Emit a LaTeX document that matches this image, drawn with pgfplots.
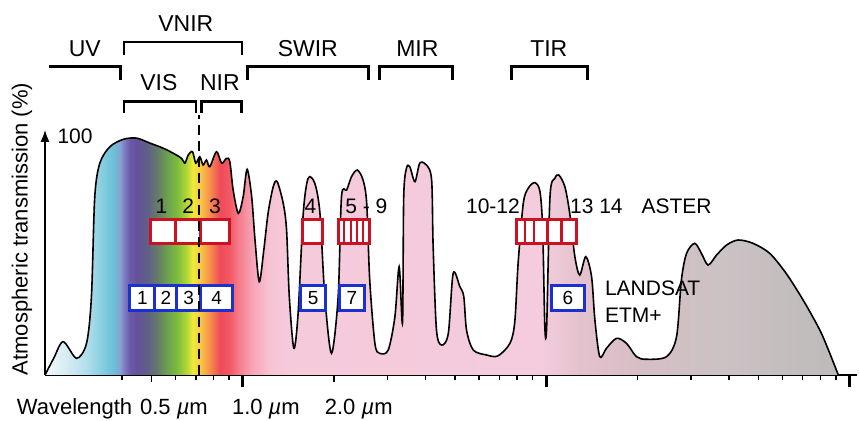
\documentclass[border=0pt]{standalone}
\usepackage{pgfplots}
\pgfplotsset{compat=1.18}
\usepackage{pgfplotstable}
\usepackage{fontspec}
\setmainfont{Liberation Sans}
\usetikzlibrary{arrows.meta}

\definecolor{asterred}{HTML}{CC1122}
\definecolor{landblue}{HTML}{1A30D0}

\definecolor{s00}{HTML}{F4FAFC}
\definecolor{s01}{HTML}{DFF0F5}
\definecolor{s02}{HTML}{C8E6EF}
\definecolor{s03}{HTML}{A8DCEA}
\definecolor{s04}{HTML}{78C8DC}
\definecolor{s05}{HTML}{6CBCD8}
\definecolor{s06}{HTML}{8AA0D0}
\definecolor{s07}{HTML}{7878C0}
\definecolor{s08}{HTML}{6A5AA8}
\definecolor{s09}{HTML}{66509A}
\definecolor{s10}{HTML}{5F5F88}
\definecolor{s11}{HTML}{667A6A}
\definecolor{s12}{HTML}{6AA050}
\definecolor{s13}{HTML}{7CBC3C}
\definecolor{s14}{HTML}{B8D838}
\definecolor{s15}{HTML}{F0EA38}
\definecolor{s16}{HTML}{F8C848}
\definecolor{s17}{HTML}{F8A048}
\definecolor{s18}{HTML}{F47850}
\definecolor{s19}{HTML}{F04A58}
\definecolor{s20}{HTML}{F25A66}
\definecolor{s21}{HTML}{F58090}
\definecolor{s22}{HTML}{F7A6B8}
\definecolor{s23}{HTML}{F6C4D4}
\definecolor{s24}{HTML}{F5CADB}
\definecolor{s25}{HTML}{F4CCDE}
\definecolor{s26}{HTML}{E4C2CD}
\definecolor{s27}{HTML}{D6BEC5}
\definecolor{s28}{HTML}{CBC2C4}
\definecolor{s29}{HTML}{BDBABA}

\pgfdeclarehorizontalshading{spectrum}{100bp}{color(0bp)=(s00); color(25bp)=(s00); color(25.95bp)=(s01); color(26.89bp)=(s02); color(27.84bp)=(s03); color(28.91bp)=(s04); color(29.41bp)=(s05); color(29.73bp)=(s06); color(30.04bp)=(s07); color(30.36bp)=(s08); color(30.80bp)=(s09); color(31.43bp)=(s10); color(32.06bp)=(s11); color(32.69bp)=(s12); color(33.32bp)=(s13); color(33.95bp)=(s14); color(34.33bp)=(s15); color(34.77bp)=(s16); color(35.21bp)=(s17); color(35.59bp)=(s18); color(36.03bp)=(s19); color(36.66bp)=(s20); color(37.29bp)=(s21); color(38.11bp)=(s22); color(39.18bp)=(s23); color(40.44bp)=(s24); color(56.20bp)=(s25); color(58.72bp)=(s26); color(62.50bp)=(s27); color(67.55bp)=(s28); color(75bp)=(s29); color(100bp)=(s29)}

% L = log10(wavelength / micrometre), Y = transmission in percent
\pgfplotstableread{
L Y
-0.652 0
-0.623 7.1
-0.592 14.0
-0.548 7.0
-0.515 13.4
-0.499 32.9
-0.488 74.9
-0.471 89.1
-0.438 95.9
-0.394 99.0
-0.350 99.5
-0.306 97.4
-0.263 95.3
-0.230 93.2
-0.202 91.0
-0.191 89.0
-0.180 92.4
-0.166 93.8
-0.155 89.0
-0.142 91.7
-0.131 88.2
-0.120 90.3
-0.109 87.5
-0.087 93.8
-0.070 89.0
-0.054 91.0
-0.043 89.6
-0.032 77.7
-0.015 67.9
0.001 74.9
0.014 86.4
0.029 74.9
0.040 56.7
0.054 39.2
0.069 52.5
0.083 67.9
0.100 79.1
0.113 81.2
0.133 72.1
0.144 60.9
0.153 32.9
0.168 11.2
0.182 25.9
0.199 67.9
0.215 82.6
0.237 80.5
0.254 67.9
0.270 32.9
0.292 9.1
0.314 32.9
0.325 74.9
0.342 77.7
0.358 83.3
0.377 86.1
0.396 81.9
0.408 72.1
0.418 39.9
0.435 13.3
0.451 9.1
0.479 10.5
0.501 24.5
0.515 45.5
0.526 22.0
0.530 74.9
0.539 86.8
0.550 87.5
0.567 81.2
0.583 89.0
0.605 88.2
0.622 81.9
0.627 53.9
0.638 18.9
0.655 12.6
0.677 17.5
0.693 42.7
0.715 37.1
0.728 32.9
0.737 18.9
0.759 10.5
0.803 8.4
0.840 8.0
0.880 13.3
0.896 22.4
0.907 46.9
0.924 72.1
0.940 78.4
0.962 80.8
0.979 77.0
0.988 60.9
0.995 20.3
1.001 20.3
1.012 74.9
1.028 82.6
1.041 84.0
1.061 79.1
1.077 67.9
1.094 49.7
1.110 42.0
1.130 49.7
1.149 41.3
1.160 23.1
1.176 7.7
1.198 11.2
1.231 15.4
1.264 13.3
1.297 7.7
1.330 6.6
1.396 7.7
1.429 16.1
1.445 39.9
1.462 51.1
1.489 55.3
1.511 51.1
1.533 46.2
1.561 50.4
1.594 54.6
1.632 56.7
1.681 55.3
1.736 51.1
1.790 42.7
1.846 31.5
1.901 18.9
1.934 9.1
1.962 0
}\atm

\begin{document}
\begin{tikzpicture}
\useasboundingbox (-22.5pt,-23pt) rectangle (407.5pt,187.5pt);
\begin{axis}[
  scale only axis, width=405.9pt, height=122.6pt,
  xmin=-0.652, xmax=2.023, ymin=0, ymax=103,
  axis x line=bottom, axis y line=left,
  x axis line style={-, line width=0.9pt},
  y axis line style={-{Latex[length=6pt,width=4.5pt]}, line width=0.9pt},
  xtick={0,1,2}, xticklabels={,,},
  minor xtick={-0.398,-0.222,-0.155,-0.097,-0.046,0.477,0.602,0.699,0.778,0.845,0.903,0.954,1.301,1.477,1.602,1.699,1.778,1.845,1.903,1.954},
  extra x ticks={-0.301,0.301}, extra x tick labels={,},
  extra x tick style={major tick length=3.5pt, major tick style={line width=0.8pt}},
  major tick length=6pt, minor tick length=2.5pt,
  tick align=outside,
  major tick style={black, line width=1.4pt},
  minor tick style={black, line width=0.7pt},
  ytick=\empty,
  clip=false,
  font=\fontsize{11}{13}\selectfont,
]
\addplot[draw=none, smooth, tension=0.5, shading=spectrum, shading angle=0] table[x=L,y=Y]{\atm} \closedcycle;
\addplot[black, line width=0.8pt, smooth, tension=0.5] table[x=L,y=Y]{\atm};

% ASTER bands
\draw[draw=asterred, fill=white, line width=1.5pt] (axis cs:-0.303,55.3) rectangle (axis cs:-0.043,65.4);
\draw[asterred, line width=1.5pt] (axis cs:-0.221,55.3) -- (axis cs:-0.221,65.4);
\draw[asterred, line width=1.5pt] (axis cs:-0.139,55.3) -- (axis cs:-0.139,65.4);
\draw[draw=asterred, fill=white, line width=1.5pt] (axis cs:0.197,55.3) rectangle (axis cs:0.263,65.4);
\draw[draw=asterred, fill=white, line width=1.5pt] (axis cs:0.314,55.3) rectangle (axis cs:0.416,65.4);
\draw[asterred, line width=1.1pt] (axis cs:0.334,55.3) -- (axis cs:0.334,65.4);
\draw[asterred, line width=1.1pt] (axis cs:0.355,55.3) -- (axis cs:0.355,65.4);
\draw[asterred, line width=1.1pt] (axis cs:0.376,55.3) -- (axis cs:0.376,65.4);
\draw[asterred, line width=1.1pt] (axis cs:0.395,55.3) -- (axis cs:0.395,65.4);
\draw[draw=asterred, fill=white, line width=1.5pt] (axis cs:0.900,55.3) rectangle (axis cs:1.100,65.4);
\draw[asterred, line width=1.1pt] (axis cs:0.929,55.3) -- (axis cs:0.929,65.4);
\draw[asterred, line width=1.1pt] (axis cs:0.959,55.3) -- (axis cs:0.959,65.4);
\draw[asterred, line width=1.1pt] (axis cs:1.050,55.3) -- (axis cs:1.050,65.4);
\draw[asterred, line width=1.8pt] (axis cs:1.004,55.3) -- (axis cs:1.004,65.4);

% LANDSAT bands
\draw[draw=landblue, fill=white, line width=1.5pt] (axis cs:-0.372,26.9) rectangle (axis cs:-0.034,37.8);
\draw[landblue, line width=1.5pt] (axis cs:-0.290,26.9) -- (axis cs:-0.290,37.8);
\draw[landblue, line width=1.5pt] (axis cs:-0.218,26.9) -- (axis cs:-0.218,37.8);
\draw[landblue, line width=1.5pt] (axis cs:-0.139,26.9) -- (axis cs:-0.139,37.8);
\draw[draw=landblue, fill=white, line width=1.5pt] (axis cs:0.191,26.9) rectangle (axis cs:0.273,37.8);
\draw[draw=landblue, fill=white, line width=1.5pt] (axis cs:0.317,26.9) rectangle (axis cs:0.402,37.8);
\draw[draw=landblue, fill=white, line width=1.5pt] (axis cs:1.017,26.9) rectangle (axis cs:1.125,37.8);

\node[font=\fontsize{9.5}{11}\selectfont] at (axis cs:-0.331,32.35) {1};
\node[font=\fontsize{9.5}{11}\selectfont] at (axis cs:-0.254,32.35) {2};
\node[font=\fontsize{9.5}{11}\selectfont] at (axis cs:-0.1785,32.35) {3};
\node[font=\fontsize{9.5}{11}\selectfont] at (axis cs:-0.0865,32.35) {4};
\node[font=\fontsize{9.5}{11}\selectfont] at (axis cs:0.232,32.35) {5};
\node[font=\fontsize{9.5}{11}\selectfont] at (axis cs:0.3595,32.35) {7};
\node[font=\fontsize{9.5}{11}\selectfont] at (axis cs:1.071,32.35) {6};

\node[font=\fontsize{10.5}{12}\selectfont] at (axis cs:-0.268,70.9) {1};
\node[font=\fontsize{10.5}{12}\selectfont] at (axis cs:-0.180,70.9) {2};
\node[font=\fontsize{10.5}{12}\selectfont] at (axis cs:-0.092,70.9) {3};
\node[font=\fontsize{10.5}{12}\selectfont] at (axis cs:0.223,70.9) {4};
\node[font=\fontsize{10.5}{12}\selectfont] at (axis cs:0.407,70.9) {5 - 9};
\node[font=\fontsize{10.5}{12}\selectfont] at (axis cs:0.824,70.9) {10-12};
\node[font=\fontsize{10.5}{12}\selectfont] at (axis cs:1.165,70.9) {13 14};
\node[font=\fontsize{10.5}{12}\selectfont] at (axis cs:1.429,70.9) {ASTER};
\node[font=\fontsize{10.5}{12}\selectfont, anchor=west] at (axis cs:1.170,36.4) {LANDSAT};
\node[font=\fontsize{10.5}{12}\selectfont, anchor=west] at (axis cs:1.170,25.2) {ETM+};
\node[font=\fontsize{10.5}{12}\selectfont, anchor=west] at (axis cs:-0.634,100.1) {100};

% VIS / NIR boundary
\draw[dash pattern=on 5pt off 3pt, line width=1pt] (axis cs:-0.144,0) -- (axis cs:-0.144,109.2);

% spectral region brackets
\draw[line width=1.5pt, line join=miter] (axis cs:-0.639,129.4) -- (axis cs:-0.402,129.4) -- (axis cs:-0.402,124.0);
\draw[line width=1.2pt, line join=miter] (axis cs:-0.392,134.5) -- (axis cs:-0.392,140.0) -- (axis cs:-0.003,140.0) -- (axis cs:-0.003,134.5);
\draw[line width=1.5pt, line join=miter] (axis cs:0.014,124.0) -- (axis cs:0.014,129.4) -- (axis cs:0.413,129.4) -- (axis cs:0.413,124.0);
\draw[line width=1.5pt, line join=miter] (axis cs:0.451,124.0) -- (axis cs:0.451,129.4) -- (axis cs:0.692,129.4) -- (axis cs:0.692,124.0);
\draw[line width=1.5pt, line join=miter] (axis cs:0.886,124.0) -- (axis cs:0.886,129.4) -- (axis cs:1.137,129.4) -- (axis cs:1.137,124.0);
\draw[line width=1.3pt, line join=miter] (axis cs:-0.392,110.0) -- (axis cs:-0.392,114.8) -- (axis cs:-0.155,114.8) -- (axis cs:-0.155,110.0);
\draw[line width=1.3pt, line join=miter] (axis cs:-0.136,110.0) -- (axis cs:-0.136,114.8) -- (axis cs:-0.004,114.8) -- (axis cs:-0.004,110.0);

\node[font=\fontsize{11.5}{13}\selectfont] at (axis cs:-0.521,137.2) {UV};
\node[font=\fontsize{11.5}{13}\selectfont] at (axis cs:-0.188,147.5) {VNIR};
\node[font=\fontsize{11.5}{13}\selectfont] at (axis cs:0.214,137.2) {SWIR};
\node[font=\fontsize{11.5}{13}\selectfont] at (axis cs:0.575,137.2) {MIR};
\node[font=\fontsize{11.5}{13}\selectfont] at (axis cs:1.008,137.2) {TIR};
\node[font=\fontsize{11.5}{13}\selectfont] at (axis cs:-0.277,122.7) {VIS};
\node[font=\fontsize{11.5}{13}\selectfont] at (axis cs:-0.076,122.7) {NIR};

% axis texts
\node[rotate=90, font=\fontsize{11}{13}\selectfont] at (axis cs:-0.728,61.3) {Atmospheric transmission (\%)};
\node[anchor=base west, font=\fontsize{11}{13}\selectfont] at (axis cs:-0.768,-16.4) {Wavelength};
\node[anchor=base west, font=\fontsize{11}{13}\selectfont] at (axis cs:-0.362,-16.4) {0.5 \textit{µ}m};
\node[anchor=base west, font=\fontsize{11}{13}\selectfont] at (axis cs:-0.059,-16.4) {1.0 \textit{µ}m};
\node[anchor=base west, font=\fontsize{11}{13}\selectfont] at (axis cs:0.247,-16.4) {2.0 \textit{µ}m};
\end{axis}
\end{tikzpicture}
\end{document}
